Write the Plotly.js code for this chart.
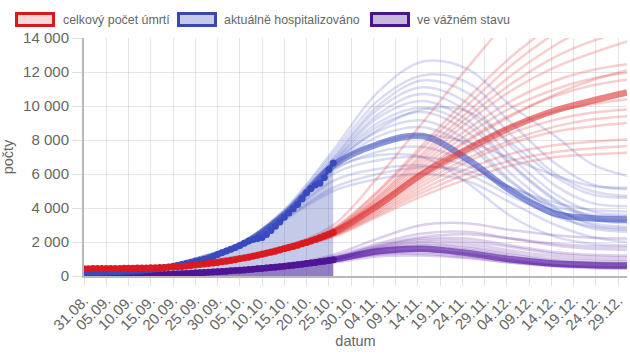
<!DOCTYPE html>
<html><head><meta charset="utf-8">
<script src="https://cdn.plot.ly/plotly-3.0.1.min.js"></script>
<style>html,body{margin:0;padding:0;background:#fff}#chart{width:630px;height:354px}</style>
</head><body><div id="chart"></div>
<script>
// ---- observed data (daily from 31.08.2020) ----
var obsStart = '2020-08-31';
var hospitalized = [200,
 205,210,212,218,225,232,240,250,262,275,
 290,305,325,350,380,410,445,485,525,570,
 625,680,740,800,870,930,990,1060,1150,1260,
 1370,1470,1570,1680,1800,1930,2060,2150,2200,2270,
 2440,2680,2920,3180,3450,3700,3950,4200,4550,4900,
 5150,5350,5450,5800,6250,6650];
var deaths = [430,
 432,434,436,438,440,442,445,448,452,456,
 460,465,470,476,483,490,498,507,517,528,
 545,565,590,620,650,675,700,730,765,800,
 840,875,915,960,1010,1060,1110,1160,1220,1280,
 1340,1400,1460,1530,1600,1670,1740,1810,1890,1970,
 2060,2150,2250,2350,2460,2570];
var serious = [30,
 31,32,33,35,37,39,41,44,47,50,
 54,58,63,68,74,80,87,95,104,114,
 125,137,150,163,177,190,204,218,233,250,
 267,284,302,320,340,360,380,400,422,445,
 470,495,520,548,576,605,635,665,697,730,
 765,800,835,870,910,950];

// ---- model projections (sampled dates) ----
var projDates = ['2020-09-20','2020-10-05','2020-10-15','2020-10-26','2020-11-05','2020-11-15','2020-11-25','2020-12-05','2020-12-15','2020-12-23','2020-12-31'];

var hospMain = [560,1800,3600,6500,7750,8230,6900,5000,3650,3400,3330];
var hospRuns = [
 [580,1900,3900,7400,10800,12600,12200,10000,8200,6600,5900],
 [570,1880,3850,7200,10300,11800,11400,9000,6600,5400,5100],
 [560,1850,3800,7000,10000,11500,10800,8300,6000,5000,4700],
 [560,1850,3750,6900,9800,11100,10200,7600,5300,4300,4100],
 [550,1830,3700,6800,9500,10700,9700,7000,4800,3800,3600],
 [550,1820,3700,6700,9300,10300,9200,6600,4500,3500,3300],
 [550,1820,3650,6700,9000,9900,8900,6500,4400,3400,3200],
 [550,1800,3650,6600,8800,9650,8500,6000,4000,3000,2800],
 [540,1800,3600,6500,8500,9150,8000,5600,3700,2800,2600],
 [540,1790,3600,6400,8200,8750,7700,5500,3900,3100,2900],
 [540,1780,3550,6200,7300,7600,6700,5000,3800,3300,3100],
 [530,1760,3500,6000,6800,7000,6500,5200,4100,3600,3500],
 [530,1750,3450,5600,6300,6500,6000,4700,3500,2900,2700],
 [520,1720,3350,5200,6000,6400,6200,5200,4300,3900,3800],
 [520,1700,3300,5000,5700,6000,5600,4300,3000,2300,2000],
 [550,1800,3600,6500,7800,8300,7900,6900,5900,5300,5200],
 [540,1780,3550,6300,7100,7000,5500,3500,2300,1900,1800],
 [550,1800,3600,6600,8600,9800,9700,7800,5800,4800,4600]
];

var deathMain = [560,1030,1620,2560,4150,6000,7450,8750,9750,10300,10800];
var deathRuns = [
 [560,1040,1680,2800,5000,7700,10400,12900,14900,16300,17500],
 [560,1040,1670,2750,4900,7500,10000,12400,14300,15500,16500],
 [560,1040,1660,2700,4700,7200,9600,11800,13600,14700,15500],
 [555,1035,1650,2700,4600,7000,9300,11300,12900,13800,14400],
 [555,1035,1640,2650,4500,6800,9000,10900,12300,13100,13800],
 [555,1030,1640,2650,4400,6600,8600,10300,11500,12100,12450],
 [555,1030,1630,2600,4300,6400,8300,9900,11000,11600,11950],
 [550,1030,1630,2600,4250,6200,8000,9500,10600,11200,11550],
 [550,1025,1620,2550,4100,5900,7500,8800,9700,10100,10400],
 [550,1025,1610,2500,4000,5700,7200,8400,9200,9600,9800],
 [550,1020,1600,2450,3900,5500,6900,8000,8800,9200,9400],
 [550,1020,1590,2400,3700,5100,6300,7200,7700,7900,8030],
 [545,1015,1580,2350,3600,4900,6000,6800,7300,7500,7640],
 [545,1010,1570,2300,3500,4700,5700,6500,7000,7150,7250],
 [560,1050,1720,3000,5800,9000,12200,15200,17500,19000,20000],
 [550,1025,1620,2550,4200,6100,7900,9400,10700,11500,12100],
 [545,1015,1590,2400,3800,5300,6700,7800,8500,8800,9000]
];

var seriousMain = [120,340,580,950,1450,1600,1350,980,720,650,620];
var seriousRuns = [
 [125,350,620,1250,2200,3000,3100,2700,2400,2250,2200],
 [125,350,610,1150,1900,2500,2600,2200,1800,1600,1550],
 [120,345,600,1050,1750,2200,2200,1800,1400,1250,1200],
 [120,345,600,1000,1650,2000,1900,1500,1150,1000,950],
 [120,340,590,980,1550,1800,1650,1250,900,780,750],
 [120,340,590,970,1500,1700,1550,1150,850,740,700],
 [118,338,580,940,1400,1550,1350,950,650,550,520],
 [118,335,575,900,1300,1400,1200,850,600,500,470],
 [118,335,570,860,1250,1300,1100,780,560,460,430],
 [115,330,565,800,1150,1200,1050,800,620,550,530],
 [125,350,610,1100,1800,2300,2450,2200,1900,1750,1700],
 [120,342,595,990,1600,1900,1750,1350,1000,880,850],
 [118,336,578,930,1350,1500,1300,950,700,620,600],
 [122,346,605,1020,1700,2100,2050,1700,1300,1150,1100]
];

var legendLabels = ['celkový počet úmrtí', 'aktuálně hospitalizováno', 've vážném stavu'];

// ---- build ----
var obsDates = [];
(function(){
  var d = new Date(obsStart + 'T12:00:00Z');
  for (var i = 0; i < hospitalized.length; i++) {
    var dd = new Date(d.getTime() + i * 86400000);
    obsDates.push(dd.toISOString().slice(0,10));
  }
})();

var RED = 'rgb(220,25,30)', BLUE = 'rgb(57,73,190)', PURPLE = 'rgb(80,20,150)';
var traces = [];
function runLines(runs, color, width) {
  runs.forEach(function(r){
    traces.push({x: projDates, y: r, type:'scatter', mode:'lines',
      line:{color: color, width: width, shape:'spline', smoothing:1},
      hoverinfo:'skip', showlegend:false});
  });
}
runLines(seriousRuns, 'rgba(100,40,170,0.22)', 2.5);
runLines(hospRuns, 'rgba(63,81,191,0.2)', 2.5);
runLines(deathRuns, 'rgba(225,50,50,0.24)', 2.5);
runLines([seriousMain], 'rgba(90,30,165,0.65)', 6.5);
runLines([hospMain], 'rgba(63,81,191,0.6)', 6.5);
runLines([deathMain], 'rgba(220,50,50,0.6)', 6.5);

traces.push({x: obsDates, y: hospitalized, type:'scatter', mode:'none', fill:'tozeroy',
  fillcolor:'rgba(63,81,181,0.3)', hoverinfo:'skip', showlegend:false});
traces.push({x: obsDates, y: serious, type:'scatter', mode:'none', fill:'tozeroy',
  fillcolor:'rgba(74,20,140,0.42)', hoverinfo:'skip', showlegend:false});
traces.push({x: obsDates, y: serious, type:'scatter', mode:'lines+markers',
  line:{color:PURPLE, width:3}, marker:{color:PURPLE, size:7}, hoverinfo:'skip', showlegend:false});
traces.push({x: obsDates, y: hospitalized, type:'scatter', mode:'lines+markers',
  line:{color:BLUE, width:3}, marker:{color:BLUE, size:7}, hoverinfo:'skip', showlegend:false});
traces.push({x: obsDates, y: deaths, type:'scatter', mode:'lines+markers',
  line:{color:RED, width:3}, marker:{color:RED, size:7}, hoverinfo:'skip', showlegend:false});

// legend (drawn as layout decoration)
var W = 543, H = 238, L = 84, T = 38;
function px(x){ return (x - L) / W; }
function py(y){ return (T + H - y) / H; }
var legendStyle = [
  {fill:'rgba(229,57,53,0.2)', line:'rgb(215,25,30)', bx:16.5, tx:61},
  {fill:'rgba(63,81,181,0.3)', line:'rgb(57,73,171)', bx:178.5, tx:221.5},
  {fill:'rgba(74,20,140,0.3)', line:'rgb(74,20,140)', bx:371.5, tx:415}
];
var shapes = [], annotations = [];
legendStyle.forEach(function(s, i){
  shapes.push({type:'rect', xref:'paper', yref:'paper', x0:px(s.bx), x1:px(s.bx+37),
    y0:py(25.5), y1:py(13.5), fillcolor:s.fill, line:{color:s.line, width:3}});
  annotations.push({xref:'paper', yref:'paper', x:px(s.tx), y:py(19.5), xanchor:'left', yanchor:'middle',
    text:legendLabels[i], showarrow:false, font:{size:12.4, color:'#666', family:'Liberation Sans, Arial, sans-serif'}});
});

var layout = {
  width:630, height:354,
  margin:{l:84, r:3, t:38, b:78},
  paper_bgcolor:'#fff', plot_bgcolor:'#fff',
  separators:', ',
  showlegend:false,
  font:{family:'Liberation Sans, Arial, sans-serif', color:'#666'},
  xaxis:{
    type:'date', range:['2020-08-31','2020-12-31'],
    tick0:'2020-08-31', dtick:5*86400000, tickformat:'%d.%m.', tickangle:-45,
    tickfont:{size:15, color:'#666'},
    showgrid:true, gridcolor:'rgba(0,0,0,0.1)', gridwidth:1,
    ticks:'outside', ticklen:8, tickcolor:'rgba(0,0,0,0.12)',
    showline:true, linecolor:'rgba(0,0,0,0.28)', linewidth:2,
    zeroline:false, automargin:false,
    title:{text:'datum', font:{size:14.5, color:'#666'}, standoff:1}
  },
  yaxis:{
    range:[0,14000], dtick:2000, tickformat:',d',
    tickfont:{size:15, color:'#666'},
    showgrid:true, gridcolor:'rgba(0,0,0,0.1)', gridwidth:1,
    ticks:'outside', ticklen:10, tickcolor:'rgba(0,0,0,0.12)',
    showline:true, linecolor:'rgba(0,0,0,0.28)', linewidth:2,
    zeroline:false, automargin:false,
    title:{text:'počty', font:{size:14.5, color:'#666'}, standoff:8}
  },
  shapes:shapes, annotations:annotations
};
Plotly.newPlot('chart', traces, layout, {staticPlot:true, displayModeBar:false});
</script></body></html>
